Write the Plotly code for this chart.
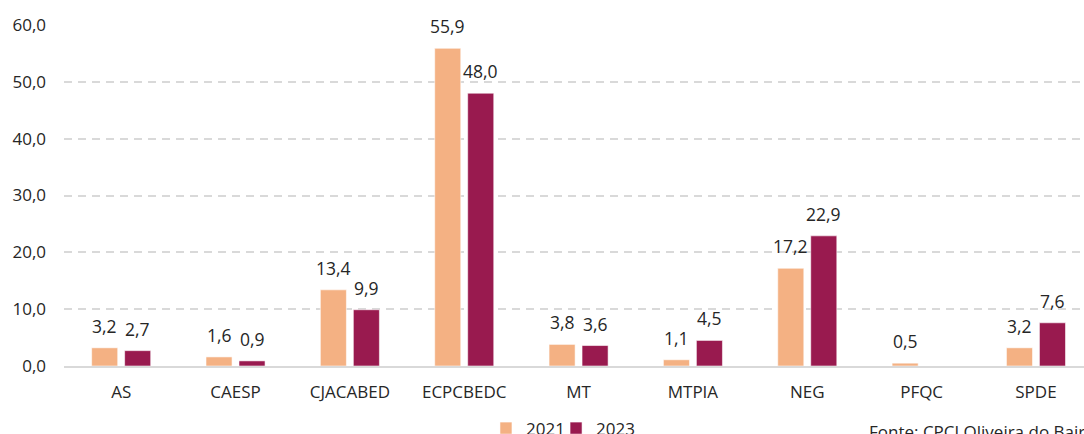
import plotly.graph_objects as go

# Situações de perigo por categoria, 2021 vs 2023 (%)
categories = ["AS", "CAESP", "CJACABED", "ECPCBEDC", "MT", "MTPIA", "NEG", "PFQC", "SPDE"]
values_2021 = [3.2, 1.6, 13.4, 55.9, 3.8, 1.1, 17.2, 0.5, 3.2]
values_2023 = [2.7, 0.9, 9.9, 48.0, 3.6, 4.5, 22.9, None, 7.6]
y_ticks = [0, 10, 20, 30, 40, 50, 60]

color_2021 = "#F4B183"
color_2023 = "#991A4F"
font_family = "Open Sans, Noto Sans, sans-serif"
text_color = "#262626"

fig = go.Figure()
fig.add_trace(go.Bar(
    x=categories, y=values_2021, name="2021", legend="legend",
    marker=dict(color=color_2021, line=dict(color="rgba(255,255,255,0.7)", width=0.8)),
))
fig.add_trace(go.Bar(
    x=categories, y=values_2023, name="2023", legend="legend2",
    marker=dict(color=color_2023, line=dict(color="rgba(255,255,255,0.7)", width=0.8)),
))


def fmt(v):
    return f"{v:.1f}".replace(".", ",")


# value labels above each bar
slot_px = 33
for series, shift in ((values_2021, -slot_px / 2), (values_2023, slot_px / 2)):
    for cat, v in zip(categories, series):
        if v is None:
            continue
        fig.add_annotation(
            x=cat, y=v, text=fmt(v), showarrow=False,
            xshift=shift, yshift=22, yanchor="middle",
            font=dict(size=17.5, color=text_color, family=font_family),
        )

fig.add_annotation(
    xref="paper", yref="paper", x=0.787, y=-0.153,
    xanchor="left", yanchor="top", showarrow=False,
    text="Fonte: CPCJ Oliveira do Bairro",
    font=dict(size=17, color=text_color, family=font_family),
)

legend_style = dict(
    orientation="h", y=0.054, xref="paper", yref="container",
    xanchor="left", yanchor="top", bgcolor="rgba(0,0,0,0)",
    font=dict(size=17, color=text_color), itemwidth=30,
)

fig.update_layout(
    width=1084, height=434,
    margin=dict(l=64, r=0, t=25, b=68, autoexpand=False),
    paper_bgcolor="white", plot_bgcolor="white",
    barmode="group", bargap=0.423, bargroupgap=0.21,
    separators=",.",
    font=dict(family=font_family, size=17, color=text_color),
    showlegend=True,
    legend=dict(x=0.4137, **legend_style),
    legend2=dict(x=0.4824, **legend_style),
    xaxis=dict(
        range=[-0.5, 8.42], showgrid=False, showline=True,
        linecolor="#D9D9D9", linewidth=2, ticks="",
        tickfont=dict(size=17, color=text_color), ticklabelstandoff=10,
    ),
    yaxis=dict(
        range=[0, 60], tickvals=y_ticks, tickformat=".1f",
        showgrid=True, gridcolor="#D9D9D9", gridwidth=1.5, griddash="8px,6px",
        zeroline=False, showline=False, ticks="",
        tickfont=dict(size=17, color=text_color), ticklabelstandoff=17,
    ),
)

fig.write_html("out.html")
